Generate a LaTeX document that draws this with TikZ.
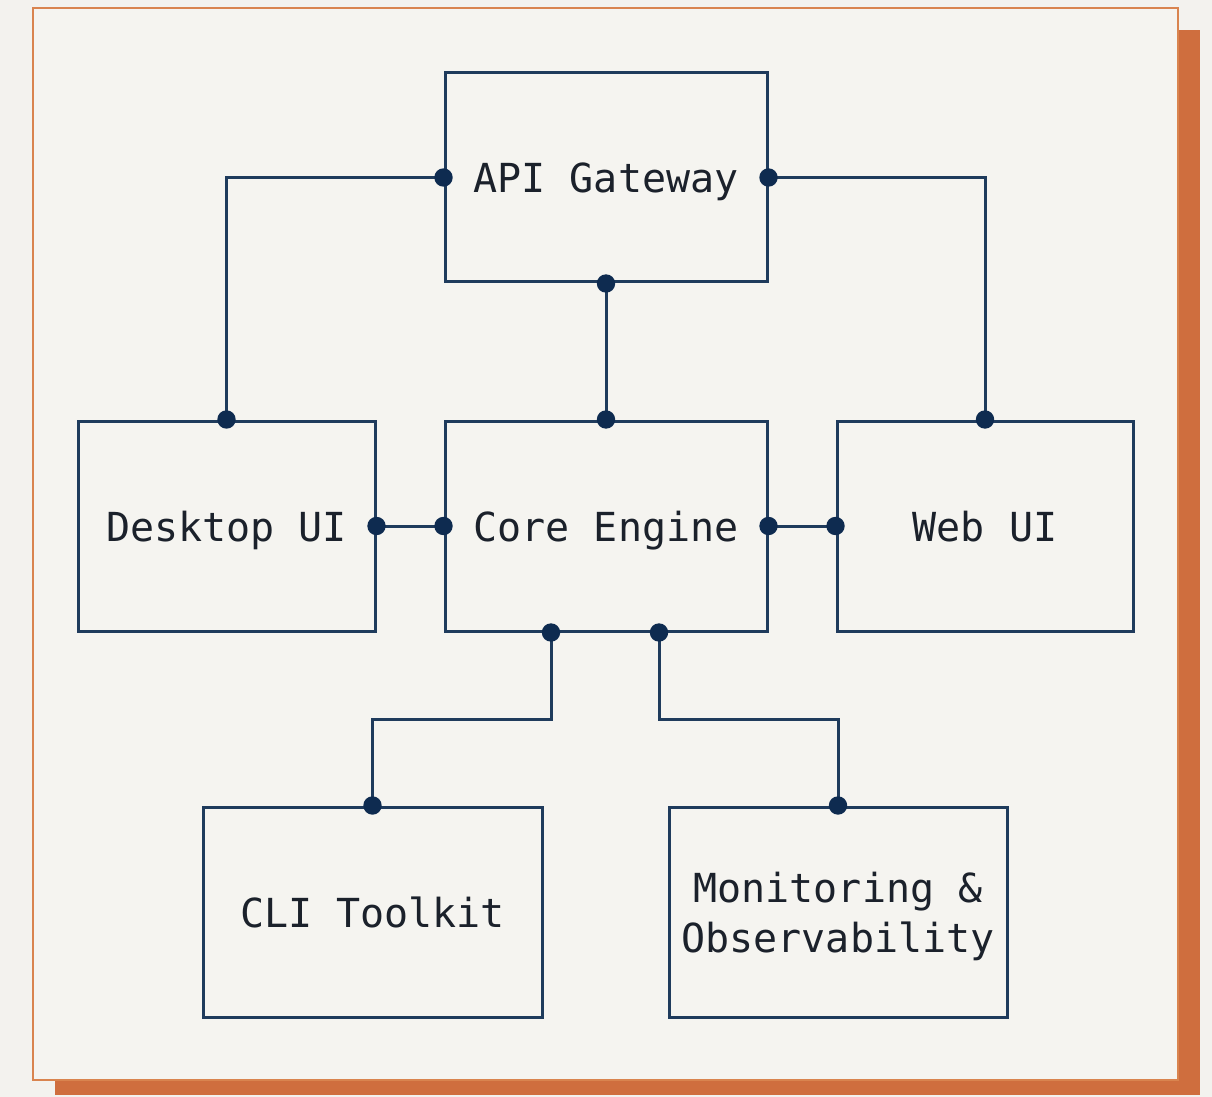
\documentclass[tikz,border=0pt]{standalone}
\usepackage{fontspec}
\setmonofont{DejaVu Sans Mono}
\usetikzlibrary{calc}
\definecolor{paper}{HTML}{F3F2EE}
\definecolor{card}{HTML}{F5F4F0}
\definecolor{rust}{HTML}{CF6E3E}
\definecolor{rustline}{HTML}{D9844F}
\definecolor{navy}{HTML}{1F3B5C}
\definecolor{navydot}{HTML}{0E2B50}
\definecolor{ink}{HTML}{1B212B}
\tikzset{
  module/.style={draw=navy, line width=1.5pt, rectangle, inner sep=0pt,
    minimum height=105pt, font=\ttfamily\fontsize{20}{25}\selectfont,
    text=ink, align=center, text depth=0pt},
  wire/.style={draw=navy, line width=1.5pt},
  joint/.style={fill=navydot}
}
\begin{document}
\begin{tikzpicture}[x=0.5pt,y=-0.5pt]
  \useasboundingbox (0,0) rectangle (1212,1097);
  \fill[paper] (0,0) rectangle (1212,1097);
  % card with offset shadow
  \fill[rust] (55,30) rectangle (1200,1095);
  \filldraw[fill=card, draw=rustline, line width=1.4pt] (33,8) rectangle (1178,1080);

  % modules
  \node[module, minimum width=161pt, minimum height=104.5pt] (api) at (606,177.5) {API Gateway};
  \node[module, minimum width=148.5pt] (desk) at (226.5,526) {Desktop UI};
  \node[module, minimum width=161pt] (core) at (606,526) {Core Engine};
  \node[module, minimum width=148pt] (web) at (985,526) {Web UI};
  \node[module, minimum width=169.5pt] (cli) at (372.5,912) {CLI Toolkit};
  \node[module, minimum width=169pt] (mon) at (838,912) {Monitoring \&\\Observability};

  % ports on the bottom of the core engine
  \coordinate (coreL) at ($(core.south)+(-55,0)$);
  \coordinate (coreR) at ($(core.south)+(53,0)$);

  % connectors
  \draw[wire] (api.west) -| (desk.north);
  \draw[wire] (api.east) -| (web.north);
  \draw[wire] (api.south) -- (core.north);
  \draw[wire] (desk.east) -- (core.west);
  \draw[wire] (core.east) -- (web.west);
  \draw[wire] (coreL) -- ++(0,87) -| (cli.north);
  \draw[wire] (coreR) -- ++(0,87) -| (mon.north);

  % connection dots
  \foreach \p in {api.west, api.east, api.south, desk.north, web.north,
                  core.north, desk.east, core.west, core.east, web.west,
                  coreL, coreR, cli.north, mon.north}
    \fill[joint] (\p) circle (4.6pt);
\end{tikzpicture}
\end{document}
